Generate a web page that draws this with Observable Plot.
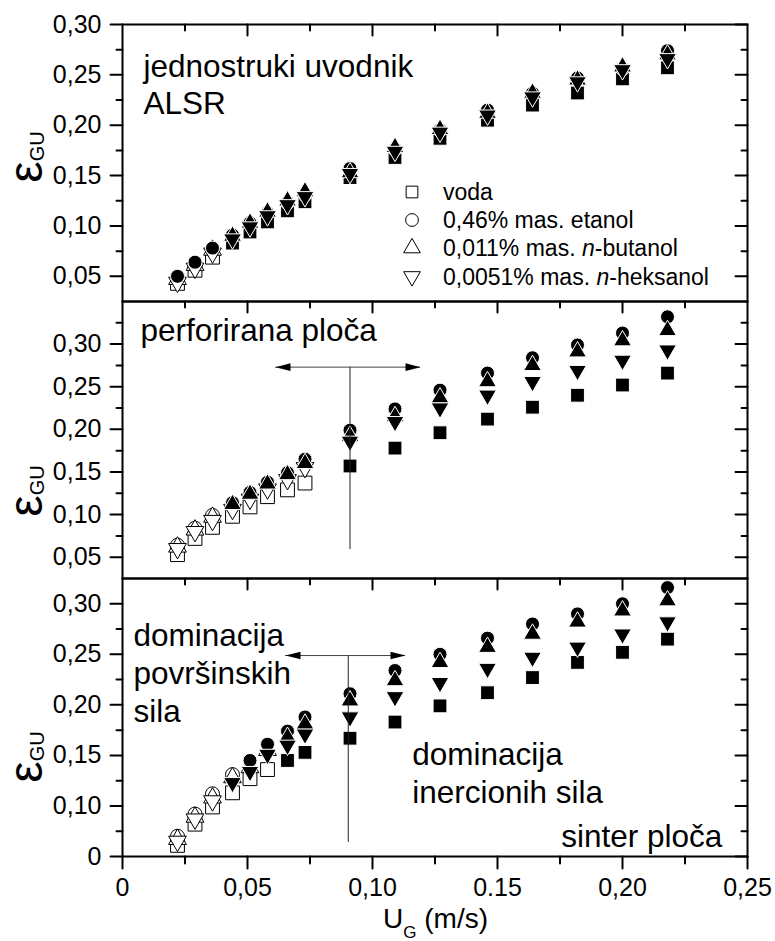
<!DOCTYPE html>
<html><head><meta charset="utf-8">
<script src="https://cdn.jsdelivr.net/npm/d3@7"></script>
<script src="https://cdn.jsdelivr.net/npm/@observablehq/plot@0.6"></script>
<style>
html,body{margin:0;padding:0;background:#fff;}
#wrap{position:relative;width:775px;height:941px;overflow:hidden;font-family:"Liberation Sans",Arial,sans-serif;}
#wrap svg{position:absolute;left:0;overflow:visible;background:transparent;}
</style></head><body><div id="wrap"></div>
<script>
// ---- data ----
const ug = [0.022,0.029,0.036,0.044,0.051,0.058,0.066,0.073,0.091,0.109,0.127,0.146,0.164,0.182,0.200,0.218];
const seriesKeys = ["voda","etanol","butanol","heksanol"];
const legendParts = [
  [["voda",false]],
  [["0,46% mas. etanol",false]],
  [["0,011% mas. ",false],["n",true],["-butanol",false]],
  [["0,0051% mas. ",false],["n",true],["-heksanol",false]]
];
// panel 1: jednostruki uvodnik ALSR
const p1Voda     = [0.043,0.056,0.069,0.083,0.094,0.104,0.115,0.124,0.148,0.168,0.187,0.205,0.220,0.232,0.246,0.257];
const p1Etanol   = [0.050,0.064,0.078,0.091,0.103,0.113,0.123,0.131,0.157,0.176,0.195,0.215,0.232,0.247,0.256,0.274];
const p1Butanol  = [0.047,0.061,0.076,0.090,0.103,0.114,0.125,0.134,0.153,0.178,0.196,0.212,0.232,0.245,0.258,0.270];
const p1Heksanol = [0.044,0.058,0.073,0.087,0.099,0.110,0.121,0.129,0.152,0.174,0.193,0.210,0.228,0.243,0.255,0.266];
// panel 2: perforirana ploča
const p2Voda     = [0.053,0.072,0.085,0.098,0.109,0.121,0.129,0.137,0.157,0.178,0.196,0.212,0.226,0.240,0.252,0.266];
const p2Etanol   = [0.064,0.084,0.099,0.114,0.126,0.138,0.149,0.165,0.199,0.224,0.246,0.266,0.284,0.299,0.313,0.332];
const p2Butanol  = [0.062,0.082,0.097,0.112,0.124,0.136,0.147,0.160,0.192,0.215,0.237,0.256,0.275,0.291,0.304,0.316];
const p2Heksanol = [0.060,0.080,0.093,0.106,0.118,0.130,0.141,0.155,0.186,0.209,0.225,0.240,0.256,0.269,0.281,0.293];
// panel 3: sinter ploča
const p3Voda     = [0.061,0.082,0.099,0.113,0.127,0.136,0.145,0.153,0.167,0.183,0.199,0.212,0.227,0.242,0.252,0.265];
const p3Etanol   = [0.070,0.092,0.112,0.131,0.145,0.161,0.174,0.188,0.211,0.234,0.250,0.266,0.280,0.290,0.300,0.316];
const p3Butanol  = [0.067,0.089,0.108,0.128,0.138,0.155,0.168,0.181,0.204,0.224,0.242,0.257,0.270,0.282,0.293,0.303];
const p3Heksanol = [0.065,0.087,0.105,0.123,0.134,0.151,0.160,0.171,0.188,0.208,0.222,0.236,0.247,0.257,0.270,0.282];
// number of leading (low U_G) points drawn hollow, per series
const p1Hollow = [3,0,3,3];
const p2Hollow = [8,3,3,8];
const p3Hollow = [6,4,6,3];
// axes
const xMajor = [0,0.05,0.10,0.15,0.20,0.25];
const xLabels = ["0","0,05","0,10","0.15","0,20","0,25"];
const xMinor = [0.025,0.075,0.125,0.175,0.225];
const p1Domain = [0.025,0.30];
const p1Major = [0.05,0.10,0.15,0.20,0.25,0.30];
const p1Labels = ["0,05","0,10","0,15","0,20","0,25","0,30"];
const p1Minor = [0.075,0.125,0.175,0.225,0.275];
const p2Domain = [0.025,0.35];
const p2Major = [0.05,0.10,0.15,0.20,0.25,0.30];
const p2Labels = ["0,05","0,10","0,15","0,20","0,25","0,30"];
const p2Minor = [0.075,0.125,0.175,0.225,0.275,0.325];
const p3Domain = [0.05,0.325];
const p3Major = [0.05,0.10,0.15,0.20,0.25,0.30];
const p3Labels = ["0","0,10","0,15","0,20","0,25","0,30"];
const p3Minor = [0.075,0.125,0.175,0.225,0.275];
// annotations (data coordinates)
const p1Notes = [{x:0.0084,y:0.2749,text:"jednostruki uvodnik\nALSR",anchor:"start"}];
const p2Notes = [{x:0.0072,y:0.3348,text:"perforirana ploča",anchor:"start"}];
const p3Notes = [
  {x:0.0044,y:0.2844,text:"dominacija\npovršinskih\nsila",anchor:"start"},
  {x:0.1159,y:0.1673,text:"dominacija\ninercionih sila",anchor:"start"},
  {x:0.2399,y:0.0864,text:"sinter ploča",anchor:"end"}
];
const p2Arrow = [{x:0.091,yTop:0.273,yBottom:0.059,xLeft:0.0612,xRight:0.1192}];
const p3Arrow = [{x:0.0903,yTop:0.2488,yBottom:0.0639,xLeft:0.0652,xRight:0.1132}];

// ---- symbols ----
const sqrt3 = Math.sqrt(3);
const triDown = {draw(c, size){const y=-Math.sqrt(size/(sqrt3*3)); c.moveTo(0,-y*2); c.lineTo(-sqrt3*y,y); c.lineTo(sqrt3*y,y); c.closePath();}};
const headRight = {draw(c){c.moveTo(0,0); c.lineTo(-15,-3.8); c.lineTo(-15,3.8); c.closePath();}};
const headLeft = {draw(c){c.moveTo(0,0); c.lineTo(15,-3.8); c.lineTo(15,3.8); c.closePath();}};
const tickShape = {draw(c,l){c.moveTo(0,0); c.lineTo(0,-l);}};
const symbols = {voda:{s:"square",r:7.8}, etanol:{s:"circle",r:7}, butanol:{s:"triangle",r:6.6}, heksanol:{s:triDown,r:6.6}};

function rows(vals, hollow){ return ug.map((x,i)=>({x, y:vals[i], filled: i>=hollow})); }

function panel(cfg){
  const marks = [];
  // hollow (bubbly-regime) points first, filled points drawn over them
  for (const filled of [false,true]) {
    cfg.series.forEach((vals,k)=>{
      const key = seriesKeys[k];
      marks.push(Plot.dot(rows(vals,cfg.hollow[k]).filter(d=>d.filled===filled),{x:"x",y:"y",symbol:symbols[key].s,r:symbols[key].r,
        fill:filled?"black":"white", stroke:filled?"white":"black", strokeWidth:1}));
    });
  }
  if (cfg.arrow){
    marks.push(Plot.ruleX(cfg.arrow,{x:"x",y1:"yTop",y2:"yBottom",stroke:"#222",strokeWidth:1}));
    marks.push(Plot.ruleY(cfg.arrow,{y:"yTop",x1:"xLeft",x2:"xRight",stroke:"#444",strokeWidth:1}));
    marks.push(Plot.dot(cfg.arrow,{x:"xLeft",y:"yTop",symbol:headLeft,fill:"black",stroke:"none"}));
    marks.push(Plot.dot(cfg.arrow,{x:"xRight",y:"yTop",symbol:headRight,fill:"black",stroke:"none"}));
  }
  for (const anchor of ["start","end"]) {
    marks.push(Plot.text(cfg.notes.filter(d=>d.anchor===anchor),{x:"x",y:"y",text:"text",textAnchor:anchor,lineAnchor:"top",fontSize:31.5,lineHeight:1.2,fill:"black"}));
  }
  // y ticks: left outward, right inward
  const tk = {shape:tickShape, anchor:"start", stroke:"black", strokeWidth:2};
  marks.push(Plot.vector(cfg.major,{y:d=>d,frameAnchor:"left",rotate:-90,length:12,...tk}));
  marks.push(Plot.vector(cfg.minor,{y:d=>d,frameAnchor:"left",rotate:-90,length:6,...tk}));
  marks.push(Plot.vector(cfg.major,{y:d=>d,frameAnchor:"right",rotate:-90,length:12,...tk}));
  marks.push(Plot.vector(cfg.minor,{y:d=>d,frameAnchor:"right",rotate:-90,length:6,...tk}));
  // x ticks on top, inward
  marks.push(Plot.vector(xMajor.slice(1,-1),{x:d=>d,frameAnchor:"top",rotate:180,length:11,...tk}));
  marks.push(Plot.vector(xMinor,{x:d=>d,frameAnchor:"top",rotate:180,length:6,...tk}));
  marks.push(Plot.text(cfg.major,{y:d=>d,text:(d,i)=>cfg.labels[i],frameAnchor:"left",textAnchor:"end",dx:-21,fontSize:25,fill:"black"}));
  if (cfg.bottomAxis){
    marks.push(Plot.vector(xMajor,{x:d=>d,frameAnchor:"bottom",rotate:180,length:12,...tk}));
    marks.push(Plot.vector(xMinor,{x:d=>d,frameAnchor:"bottom",rotate:180,length:7,...tk}));
    marks.push(Plot.text(xMajor,{x:d=>d,text:(d,i)=>xLabels[i],frameAnchor:"bottom",lineAnchor:"top",dy:22,fontSize:25,fill:"black"}));
  }
  marks.push(Plot.frame({stroke:"black",strokeWidth:2}));
  const svg = Plot.plot({
    width:775, height:cfg.height, marginLeft:122, marginRight:28, marginTop:cfg.mt, marginBottom:cfg.mb,
    x:{domain:[0,0.25], axis:null}, y:{domain:cfg.domain, axis:null},
    style:{background:"transparent", fontFamily:"Liberation Sans, Arial, sans-serif", overflow:"visible"},
    marks
  });
  svg.style.top = cfg.top + "px";
  document.getElementById("wrap").appendChild(svg);
}

panel({top:0,height:301,mt:24,mb:0,domain:p1Domain,major:p1Major,labels:p1Labels,minor:p1Minor,
  series:[p1Voda,p1Etanol,p1Butanol,p1Heksanol],hollow:p1Hollow,notes:p1Notes});
panel({top:301,height:277,mt:0,mb:0,domain:p2Domain,major:p2Major,labels:p2Labels,minor:p2Minor,
  series:[p2Voda,p2Etanol,p2Butanol,p2Heksanol],hollow:p2Hollow,notes:p2Notes,arrow:p2Arrow});
panel({top:578,height:363,mt:0,mb:85,domain:p3Domain,major:p3Major,labels:p3Labels,minor:p3Minor,
  series:[p3Voda,p3Etanol,p3Butanol,p3Heksanol],hollow:p3Hollow,notes:p3Notes,arrow:p3Arrow,bottomAxis:true});

// ---- overlay: axis titles and legend ----
const ov = d3.select("#wrap").append("svg").attr("width",775).attr("height",941)
  .style("top","0px").style("pointer-events","none")
  .attr("font-family","Liberation Sans, Arial, sans-serif");
[157,491,757].forEach(cy=>{
  const t = ov.append("text").attr("transform",`translate(42,${cy}) rotate(-90)`).attr("text-anchor","middle");
  t.append("tspan").attr("font-size",48).text("ε");
  t.append("tspan").attr("font-size",20).attr("dy",2).text("GU");
});
const xl = ov.append("text").attr("x",383).attr("y",928);
xl.append("tspan").attr("font-size",28).text("U");
xl.append("tspan").attr("font-size",17).attr("dy",10).text("G");
xl.append("tspan").attr("font-size",28).attr("dy",-10).text(" (m/s)");

const legY = [192,220,248,276.5];
const legSym = [d3.symbolSquare, d3.symbolCircle, d3.symbolTriangle, triDown];
const legR = [6.6,6.4,6.2,6.2];
legendParts.forEach((parts,i)=>{
  ov.append("path").attr("transform",`translate(412,${legY[i]})`)
    .attr("d",d3.symbol(legSym[i], Math.PI*legR[i]*legR[i])())
    .attr("fill","white").attr("stroke","black").attr("stroke-width",1);
  const t = ov.append("text").attr("x",443).attr("y",legY[i]+8.3).attr("font-size",23);
  parts.forEach(([s,it])=>{ const ts=t.append("tspan").text(s); if(it) ts.attr("font-style","italic"); });
});
</script></body></html>
